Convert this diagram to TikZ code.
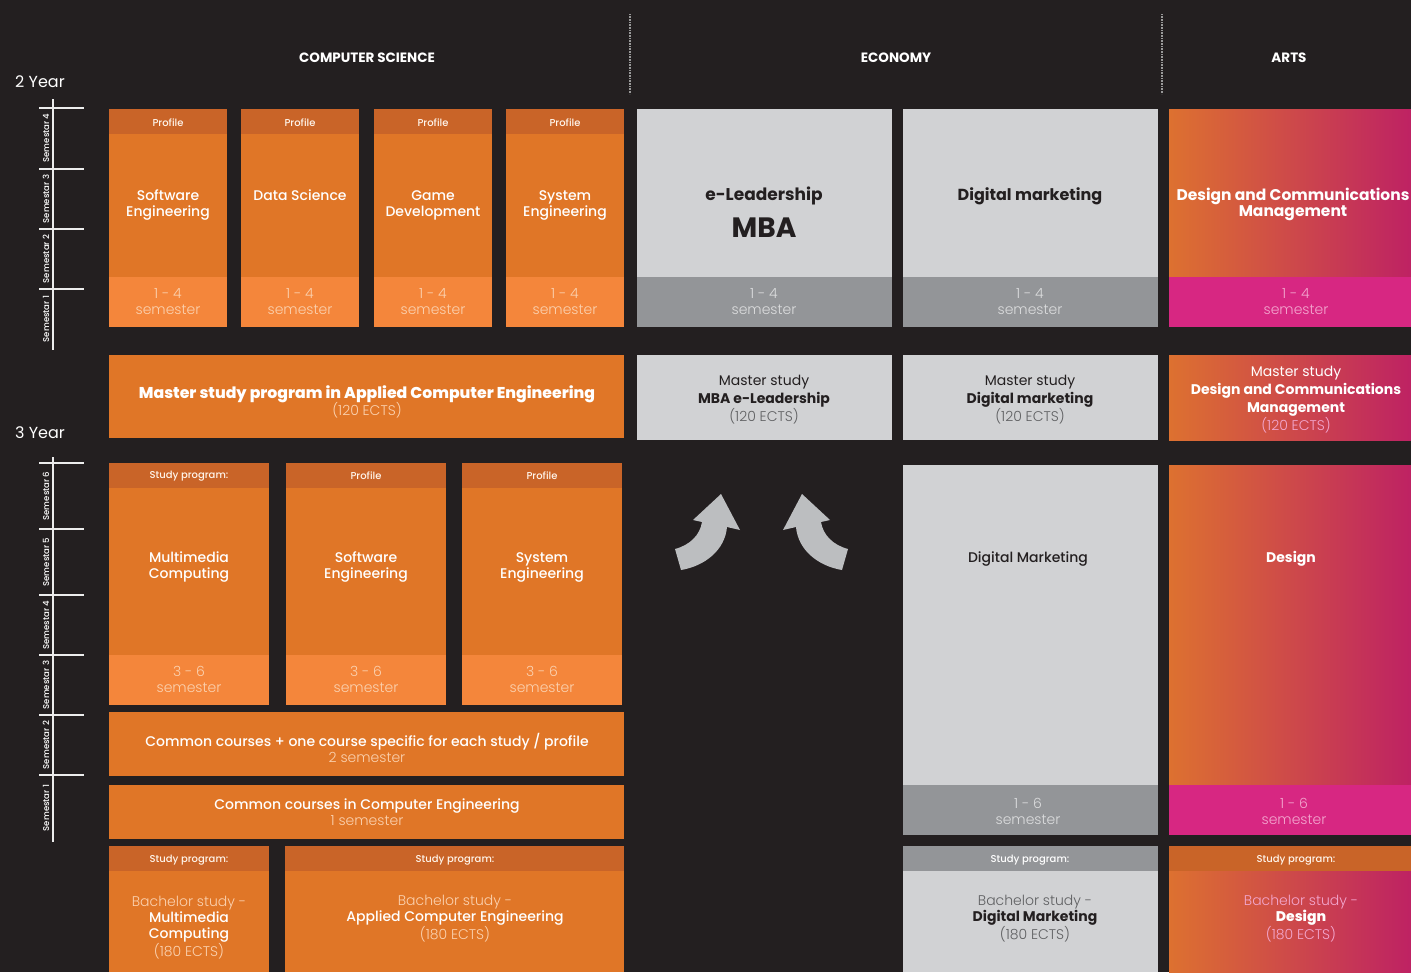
\documentclass[tikz,border=0pt]{standalone}
\usepackage{fontspec}
\setmainfont{Poppins}
\newfontfamily\lightfont{Poppins Light}
\newfontfamily\medfont{Poppins Medium}
\usetikzlibrary{calc}

\definecolor{bg}{HTML}{231F20}
\definecolor{orhead}{HTML}{C96428}
\definecolor{orbody}{HTML}{E07627}
\definecolor{orfoot}{HTML}{F4863B}
\definecolor{orpale}{HTML}{FBD2B0}
\definecolor{grbody}{HTML}{D1D2D4}
\definecolor{grfoot}{HTML}{939598}
\definecolor{grpale}{HTML}{DCDDDE}
\definecolor{grtext}{HTML}{5F6062}
\definecolor{artl}{HTML}{DD7130}
\definecolor{artr}{HTML}{BE2263}
\definecolor{artfoot}{HTML}{D72782}
\definecolor{artpale}{HTML}{F3A7CF}
\definecolor{arrowgray}{HTML}{BCBEC0}

\tikzset{
  axis/.style={draw=white!85!gray, line width=1.2pt},
  semlabel/.style={rotate=90, text=white, font=\medfont\fontsize{8.5}{9}\selectfont, inner sep=0pt},
  yearlabel/.style={anchor=west, text=white, font=\fontsize{16}{18}\selectfont, inner sep=0pt},
  colhead/.style={text=white, font=\bfseries\fontsize{13.5}{15}\selectfont, inner sep=0pt},
  headtext/.style={text=white!92!orange, font=\medfont\fontsize{10}{12}\selectfont, inner sep=0pt},
  maintext/.style={text=white, align=center, font=\medfont\fontsize{14}{16}\selectfont, inner sep=0pt},
  semtext/.style={text=orpale, align=center, font=\lightfont\fontsize{14}{16}\selectfont, inner sep=0pt},
  darktext/.style={text=bg, align=center, font=\fontsize{14}{17}\selectfont, inner sep=0pt},
  arrowshape/.style={fill=arrowgray}
}

\newcommand{\ects}[1]{{\lightfont #1}}

\begin{document}
\begin{tikzpicture}[x=1pt, y=-1pt]
  \fill[bg] (0,0) rectangle (1411,972);
  \useasboundingbox (0,0) rectangle (1411,972);

  % column headings and separators
  \node[colhead] (cs)   at (367,58)  {COMPUTER SCIENCE};
  \node[colhead] (eco)  at (896,58)  {ECONOMY};
  \node[colhead] (arts) at (1289,58) {ARTS};
  \foreach \x in {630,1162}
    \draw[gray!80, line width=1.6pt, dash pattern=on 1pt off 0.6pt] (\x,14) -- (\x,94);

  % year scales
  \node[yearlabel] (y2) at (15,82)  {2 Year};
  \node[yearlabel] (y3) at (15,433) {3 Year};
  \draw[axis] (53,99) -- (53,350);
  \foreach \y in {108,169,229,289} \draw[axis] (39,\y) -- (84,\y);
  \foreach \y/\n in {138/4,199/3,259/2,319/1}
    \node[semlabel] (s2-\n) at (46,\y) {Semestar \n};
  \draw[axis] (53,457) -- (53,842);
  \foreach \y in {463,529,595,655,715,775} \draw[axis] (39,\y) -- (84,\y);
  \foreach \y/\n in {496/6,562/5,625/4,685/3,745/2,808/1}
    \node[semlabel] (s3-\n) at (46,\y) {Semestar \n};

  % computer science, master profiles
  \foreach \x/\name/\ty/\txt in {109/se/205/{Software\\Engineering}, 241/ds/195/{Data Science},
                                 374/gd/205/{Game\\Development}, 506/sy/205/{System\\Engineering}} {
    \fill[orhead] (\x,109) rectangle ++(118,25);
    \fill[orbody] (\x,134) rectangle ++(118,143);
    \fill[orfoot] (\x,277) rectangle ++(118,50);
    \node[headtext] (\name-head) at ({\x+59},123) {Profile};
    \node[maintext] (\name) at ({\x+59},\ty) {\txt};
    \node[semtext] (\name-sem) at ({\x+59},302) {1 - 4\\semester};
  }

  % economy, master
  \foreach \x/\name in {637/mba, 903/dm} {
    \fill[grbody] (\x,109) rectangle ++(255,168);
    \fill[grfoot] (\x,277) rectangle ++(255,50);
    \node[semtext, text=grpale] (\name-sem) at ({\x+127},302) {1 - 4\\semester};
  }
  \node[darktext, font=\bfseries\fontsize{17}{20}\selectfont] (mba) at (764,196) {e-Leadership};
  \node[darktext, font=\bfseries\fontsize{28}{30}\selectfont] (mba-big) at (764,228) {MBA};
  \node[darktext, font=\bfseries\fontsize{16}{19}\selectfont] (dm) at (1030,196) {Digital marketing};

  % arts, master
  \shade[left color=artl, right color=artr] (1169,109) rectangle (1411,277);
  \fill[artfoot] (1169,277) rectangle (1411,327);
  \node[maintext, font=\bfseries\fontsize{15.5}{16}\selectfont] (dcm) at (1293,204)
    {Design and Communications\\Management};
  \node[semtext, text=artpale] (dcm-sem) at (1296,302) {1 - 4\\semester};

  % master study row
  \fill[orbody] (109,355) rectangle (624,438);
  \node[maintext] (ace-master) at (367,402)
    {{\bfseries\fontsize{15.7}{16}\selectfont Master study program in Applied Computer Engineering}\\[-2pt]
     {\color{orpale}\ects{(120 ECTS)}}};
  \fill[grbody] (637,355) rectangle (892,440);
  \node[darktext, font=\fontsize{14}{18}\selectfont] (mba-master) at (764,400)
    {Master study\\{\bfseries MBA e-Leadership}\\{\color{grtext}\ects{(120 ECTS)}}};
  \fill[grbody] (903,355) rectangle (1158,440);
  \node[darktext, font=\fontsize{14}{18}\selectfont] (dm-master) at (1030,400)
    {Master study\\{\bfseries Digital marketing}\\{\color{grtext}\ects{(120 ECTS)}}};
  \shade[left color=artl, right color=artr] (1169,355) rectangle (1411,440);
  \node[maintext, font=\fontsize{14}{18}\selectfont] (dcm-master) at (1296,400)
    {Master study\\{\bfseries Design and Communications}\\{\bfseries Management}\\
     {\color{artpale}\ects{(120 ECTS)}}};

  % arrows up to master studies
  \fill[arrowshape] (721,494) -- (740,530) -- (727,527)
    .. controls (725,550) and (705,566) .. (681,570) -- (675,549)
    .. controls (690,545) and (700,535) .. (702,522) -- (693,520) -- cycle;
  \begin{scope}[xshift=1523pt, xscale=-1]
    \fill[arrowshape] (721,494) -- (740,530) -- (727,527)
      .. controls (725,550) and (705,566) .. (681,570) -- (675,549)
      .. controls (690,545) and (700,535) .. (702,522) -- (693,520) -- cycle;
  \end{scope}

  % computer science, bachelor profiles
  \foreach \x/\name/\head/\txt in {109/mc/{Study program:}/{Multimedia\\Computing},
                                   286/sw/Profile/{Software\\Engineering},
                                   462/se3/Profile/{System\\Engineering}} {
    \fill[orhead] (\x,463) rectangle ++(160,25);
    \fill[orbody] (\x,488) rectangle ++(160,167);
    \fill[orfoot] (\x,655) rectangle ++(160,50);
    \node[headtext] (\name-head) at ({\x+80},476) {\head};
    \node[maintext] (\name) at ({\x+80},567) {\txt};
    \node[semtext] (\name-sem) at ({\x+80},679) {3 - 6\\semester};
  }
  \fill[orbody] (109,712) rectangle (624,776);
  \node[maintext] (common2) at (367,748)
    {Common courses + one course specific for each study / profile\\{\color{orpale}\lightfont 2 semester}};
  \fill[orbody] (109,785) rectangle (624,839);
  \node[maintext] (common1) at (367,812)
    {Common courses in Computer Engineering\\{\color{orpale}\lightfont 1 semester}};

  % computer science, bachelor study programs
  \fill[orhead] (109,846) rectangle (269,871);
  \fill[orbody] (109,871) rectangle (269,972);
  \node[headtext] (mc-bach-head) at (189,860) {Study program:};
  \node[maintext] (mc-bach) at (189,928)
    {{\color{orpale}\lightfont Bachelor study -}\\Multimedia\\Computing\\{\color{orpale}\lightfont (180 ECTS)}};
  \fill[orhead] (285,846) rectangle (624,871);
  \fill[orbody] (285,871) rectangle (624,972);
  \node[headtext] (ace-bach-head) at (455,860) {Study program:};
  \node[maintext] (ace-bach) at (455,919)
    {{\color{orpale}\lightfont Bachelor study -}\\Applied Computer Engineering\\{\color{orpale}\lightfont (180 ECTS)}};

  % economy, bachelor
  \fill[grbody] (903,465) rectangle (1158,785);
  \fill[grfoot] (903,785) rectangle (1158,835);
  \node[darktext, font=\medfont\fontsize{14}{16}\selectfont] (dm3) at (1028,559) {Digital Marketing};
  \node[semtext, text=grpale] (dm3-sem) at (1028,811) {1 - 6\\semester};
  \fill[grfoot] (903,846) rectangle (1158,871);
  \fill[grbody] (903,871) rectangle (1158,972);
  \node[headtext, text=white] (dm-bach-head) at (1030,860) {Study program:};
  \node[darktext, font=\fontsize{14}{16}\selectfont] (dm-bach) at (1035,919)
    {{\color{grtext}\lightfont Bachelor study -}\\{\bfseries Digital Marketing}\\{\color{grtext}\lightfont (180 ECTS)}};

  % arts, bachelor
  \shade[left color=artl, right color=artr] (1169,465) rectangle (1411,785);
  \fill[artfoot] (1169,785) rectangle (1411,835);
  \node[maintext, font=\bfseries\fontsize{14}{16}\selectfont] (des) at (1291,559) {Design};
  \node[semtext, text=artpale] (des-sem) at (1294,811) {1 - 6\\semester};
  \fill[orhead] (1169,846) rectangle (1411,871);
  \shade[left color=artl, right color=artr] (1169,871) rectangle (1411,972);
  \node[headtext] (des-bach-head) at (1296,860) {Study program:};
  \node[maintext] (des-bach) at (1301,919)
    {{\color{artpale}\lightfont Bachelor study -}\\{\bfseries Design}\\{\color{artpale}\lightfont (180 ECTS)}};
\end{tikzpicture}
\end{document}
